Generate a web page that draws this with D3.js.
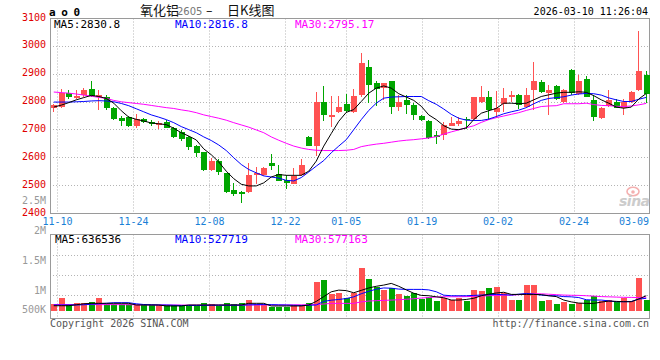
<!DOCTYPE html>
<html><head><meta charset="utf-8">
<script src="https://cdn.jsdelivr.net/npm/d3@7"></script>
<style>
body{margin:0;background:#fff}
svg{display:block}
text{font-family:"DejaVu Sans Mono",monospace}
</style>
</head><body>
<svg id="c" width="660" height="360"></svg>
<script>
// ---------- data ----------
const dates = ["11-07","11-10","11-11","11-12","11-13","11-14","11-17","11-18","11-19","11-20","11-21",
"11-24","11-25","11-26","11-27","11-28","12-01","12-02","12-03","12-04","12-05",
"12-08","12-09","12-10","12-11","12-12","12-15","12-16","12-17","12-18","12-19",
"12-22","12-23","12-24","12-25","12-26","12-29","12-30","12-31",
"01-05","01-06","01-07","01-08","01-09","01-12","01-13","01-14","01-15","01-16",
"01-19","01-20","01-21","01-22","01-23","01-26","01-27","01-28","01-29","01-30",
"02-02","02-03","02-04","02-05","02-06","02-09","02-10","02-11","02-12","02-13",
"02-24","02-25","02-26","02-27","03-02","03-03","03-04","03-05","03-06","03-09","03-10"];
const open  = [2778,2781,2832,2815,2824,2848,2820,2818,2779,2744,2745,2715,2740,2729,2719,2729,2707,2692,2675,2644,
2620,2556,2590,2544,2483,2477,2477,2537,2537,2580,2543,2519,2507,2537,2675,2642,2802,2745,2763,2794,
2763,2824,2927,2868,2852,2874,2781,2808,2790,2751,2733,2683,2683,2715,2723,2740,2739,2799,2820,2766,
2794,2818,2826,2782,2842,2871,2832,2856,2802,2916,2830,2883,2808,2743,2787,2802,2778,2799,2844,2898];
const high  = [2792,2848,2842,2844,2850,2874,2844,2826,2781,2751,2749,2758,2743,2734,2733,2737,2710,2698,2677,2646,
2622,2599,2595,2547,2511,2480,2582,2567,2567,2615,2573,2540,2564,2596,2680,2835,2856,2823,2823,2830,
2848,2977,2951,2874,2870,2876,2826,2826,2796,2755,2737,2695,2730,2746,2748,2748,2820,2856,2838,2841,
2850,2838,2830,2850,2943,2880,2862,2860,2847,2918,2898,2895,2826,2782,2844,2811,2811,2841,3054,2910];
const low   = [2766,2779,2811,2812,2820,2820,2773,2773,2737,2715,2712,2707,2725,2713,2704,2706,2670,2662,2627,2604,
2552,2554,2538,2475,2463,2437,2475,2505,2535,2556,2516,2487,2505,2535,2642,2606,2731,2711,2761,2761,
2761,2820,2796,2785,2808,2758,2767,2758,2734,2733,2668,2650,2665,2713,2715,2703,2737,2796,2737,2742,
2766,2802,2775,2778,2772,2832,2755,2808,2796,2826,2826,2818,2731,2740,2782,2778,2752,2796,2838,2796];
const close = [2790,2832,2818,2823,2844,2823,2824,2779,2739,2731,2713,2740,2729,2720,2725,2708,2675,2669,2638,2618,
2555,2588,2548,2477,2469,2470,2540,2546,2562,2570,2517,2511,2535,2573,2644,2799,2752,2755,2781,2769,
2823,2942,2862,2846,2868,2781,2802,2788,2752,2737,2671,2675,2717,2725,2733,2734,2817,2820,2770,2778,
2814,2826,2790,2826,2874,2835,2844,2811,2844,2832,2874,2820,2745,2778,2808,2780,2802,2835,2910,2828];
const volume = [290000,552000,290000,346000,346000,387000,552000,290000,290000,290000,
290000,249000,249000,249000,249000,249000,249000,207000,207000,207000,
346000,290000,207000,346000,290000,346000,442000,290000,290000,180000,
180000,180000,249000,249000,346000,1220000,1290000,705000,760000,526000,
760000,1800000,1330000,1010000,870000,940000,705000,636000,760000,498000,
595000,415000,526000,470000,526000,415000,870000,830000,968000,1010000,
733000,470000,470000,1080000,1080000,415000,470000,290000,360000,290000,
320000,470000,610000,415000,470000,360000,540000,415000,1380000,470000];
const ma5 = [2782,2789,2798,2808,2816,2824,2820,2813,2796,2769,2746,2738,2732,2725,2722,2719,2706,2690,2678,2664,
2632,2611,2585,2552,2525,2505,2499,2499,2510,2531,2540,2537,2537,2537,2552,2588,2642,2687,2731,2763,
2773,2802,2832,2850,2858,2850,2830,2818,2806,2785,2754,2737,2715,2703,2701,2707,2737,2760,2769,2777,
2796,2796,2794,2796,2808,2820,2826,2832,2835,2835,2837,2835,2823,2808,2796,2782,2778,2782,2811,2830.8];
const ma10 = [2800,2800,2800,2801,2802,2804,2805,2804,2801,2795,2787,2776,2765,2754,2746,2737,2726,2712,2701,2690,
2675,2662,2646,2626,2600,2576,2558,2546,2535,2531,2527,2519,2517,2529,2549,2570,2590,2618,2642,2665,
2701,2737,2770,2796,2814,2818,2819,2820,2820,2820,2805,2792,2775,2756,2742,2735,2734,2734,2739,2748,
2758,2765,2771,2780,2794,2806,2813,2816,2819,2825,2829,2831,2830,2825,2815,2808,2802,2802,2810,2816.8];
const ma30 = [2836,2834,2832,2829,2825,2821,2817,2813,2806,2801,2798,2795,2792,2788,2784,2780,2777,2772,2768,2762,
2754,2748,2742,2735,2726,2718,2710,2700,2690,2675,2663,2652,2642,2635,2630,2627,2626,2626,2626,2627,
2630,2640,2645,2649,2652,2656,2660,2663,2665,2668,2671,2676,2685,2693,2700,2708,2715,2727,2737,2744,
2750,2756,2762,2770,2777,2784,2786,2787,2794,2794,2794,2796,2791,2788,2787,2785,2784,2786,2790,2795.17];
const vma5 = [220000,220000,220000,260000,300000,320000,320000,320000,320000,320000,
320000,250000,250000,250000,250000,210000,210000,210000,250000,250000,
250000,250000,250000,250000,250000,250000,320000,320000,320000,210000,
210000,210000,210000,210000,250000,400000,600000,800000,870000,850000,
760000,860000,960000,1030000,1080000,1150000,1030000,880000,740000,650000,
636000,590000,553000,456000,456000,480000,530000,636000,700000,750000,
780000,692000,692000,692000,692000,680000,636000,600000,456000,380000,
330000,318000,318000,370000,415000,400000,387000,387000,500000,636536];
const vma10 = [250000,250000,250000,250000,260000,280000,300000,320000,346000,346000,
346000,300000,270000,260000,250000,250000,240000,230000,230000,230000,
235000,240000,240000,240000,240000,245000,255000,265000,270000,265000,
255000,250000,240000,230000,240000,250000,400000,450000,480000,520000,
590000,720000,820000,910000,960000,950000,913000,900000,900000,900000,
880000,802000,660000,636000,636000,636000,650000,664000,680000,692000,
680000,664000,700000,733000,700000,664000,636000,636000,600000,590000,
560000,470000,456000,456000,420000,387000,387000,395000,500000,527719];
const vma30 = [270000,270000,270000,270000,270000,268000,266000,265000,265000,265000,
262000,260000,258000,255000,252000,250000,250000,248000,246000,245000,
245000,245000,245000,245000,245000,248000,250000,252000,252000,252000,
252000,252000,255000,258000,262000,270000,290000,318000,318000,318000,
318000,380000,415000,430000,442000,455000,470000,490000,510000,540000,
560000,585000,595000,595000,595000,600000,610000,625000,636000,645000,
655000,664000,680000,700000,719000,715000,700000,680000,664000,655000,
650000,636000,620000,600000,590000,580000,570000,567000,560000,577163];
const priceTicks = [3100,3000,2900,2800,2700,2600,2500,2400];
const volTickValues = [2500000,2000000,1500000,1000000,500000];
const volTickLabels = ["2.5M","2M","1.5M","1M","500K"];
const xLabels = ["11-10","11-24","12-08","12-22","01-05","01-19","02-02","02-24","03-09"];

// ---------- setup ----------
const svg = d3.select("#c");
const RED = "#ff5252", GREEN = "#00a600", FRAME = "#9a9a9a", GRID = "#b4b4b4";
const L = 50, R = 650, T = 18.5, B = 213.5, VT = 234.5, VB = 318;

const xBand = d3.scaleBand().domain(dates).range([L, R]);
const xGrid = d3.scalePoint().domain(dates).range([L, R]);
const cx = d => xBand(d) + xBand.bandwidth() / 2;
const y = d3.scaleLinear().domain([2400, 3100]).range([B, T]);
const yv = d3.scaleLinear().domain([0, 1000000]).range([311, 287]);
const yvLab = d3.scaleLinear().domain([1000000, 2000000]).range([294, 234]);
const yvGrid = d3.scaleLinear().domain([0, 4]).range([235.7, 315.7]);
const px = v => Math.round(v - 0.5) + 0.5;

const defs = svg.append("defs");
defs.append("clipPath").attr("id", "cm").append("rect").attr("x", L).attr("y", T).attr("width", R - L).attr("height", B - T);
defs.append("clipPath").attr("id", "cv").append("rect").attr("x", L).attr("y", VT).attr("width", R - L).attr("height", VB - VT);

const gridLabels = xLabels.filter(d => xGrid(d) + 15 <= R);

// ---------- grids ----------
const g = svg.append("g").attr("stroke", GRID).attr("stroke-dasharray", "1,2").attr("fill", "none");
priceTicks.filter(v => v > 2400 && v < 3100).forEach(v => {
  g.append("line").attr("x1", L).attr("x2", R).attr("y1", px(y(v))).attr("y2", px(y(v)));
});
[1, 2, 3].forEach(k => {
  g.append("line").attr("x1", L).attr("x2", R).attr("y1", px(yvGrid(k))).attr("y2", px(yvGrid(k)));
});
gridLabels.forEach(d => {
  const x = px(xGrid(d));
  g.append("line").attr("x1", x).attr("x2", x).attr("y1", T).attr("y2", B);
  g.append("line").attr("x1", x).attr("x2", x).attr("y1", VT).attr("y2", VB);
});

// ---------- frames ----------
const f = svg.append("g").attr("stroke", FRAME).attr("fill", "none").attr("shape-rendering", "crispEdges");
f.append("rect").attr("x", L).attr("y", T).attr("width", R - L - 1).attr("height", B - T);
f.append("rect").attr("x", L).attr("y", VT).attr("width", R - L - 1).attr("height", VB - VT);

// ---------- candles ----------
const cg = svg.append("g").attr("clip-path", "url(#cm)").attr("shape-rendering", "crispEdges");
dates.forEach((d, i) => {
  const up = close[i] >= open[i];
  const col = up ? RED : GREEN;
  const c = Math.floor(cx(d));
  cg.append("line").attr("x1", c + 0.5).attr("x2", c + 0.5)
    .attr("y1", y(high[i])).attr("y2", y(low[i])).attr("stroke", col);
  const top = y(Math.max(open[i], close[i])), bot = y(Math.min(open[i], close[i]));
  cg.append("rect").attr("x", c - 2.5).attr("width", 6)
    .attr("y", top).attr("height", Math.max(1, bot - top)).attr("fill", col);
});

// ---------- MA lines ----------
const lineP = arr => d3.line().x((d, i) => cx(dates[i])).y(d => y(d))(arr);
const mg = svg.append("g").attr("clip-path", "url(#cm)").attr("fill", "none").attr("stroke-width", 1);
mg.append("path").attr("d", lineP(ma30)).attr("stroke", "#ff00ff");
mg.append("path").attr("d", lineP(ma10)).attr("stroke", "#0000ff");
mg.append("path").attr("d", lineP(ma5)).attr("stroke", "#000");

// ---------- volume ----------
const vg = svg.append("g").attr("clip-path", "url(#cv)").attr("shape-rendering", "crispEdges");
dates.forEach((d, i) => {
  const up = close[i] >= open[i];
  const c = Math.floor(cx(d));
  vg.append("rect").attr("x", c - 2.5).attr("width", 6)
    .attr("y", yv(volume[i])).attr("height", yv(0) - yv(volume[i]))
    .attr("fill", up ? RED : GREEN);
});
const lineV = arr => d3.line().x((d, i) => cx(dates[i])).y(d => yv(d))(arr);
const vm = svg.append("g").attr("clip-path", "url(#cv)").attr("fill", "none");
vm.append("path").attr("d", lineV(vma30)).attr("stroke", "#ff00ff");
vm.append("path").attr("d", lineV(vma10)).attr("stroke", "#0000ff");
vm.append("path").attr("d", lineV(vma5)).attr("stroke", "#000");

// ---------- axis labels ----------
svg.append("g").selectAll("text").data(priceTicks).join("text")
  .attr("x", 46).attr("y", v => y(v) + 2).attr("text-anchor", "end")
  .attr("font-size", 10).attr("fill", "#e00000").text(v => v);
svg.append("g").selectAll("text").data(volTickValues).join("text")
  .attr("x", 46).attr("y", v => Math.min(313, yvLab(v))).attr("text-anchor", "end")
  .attr("font-size", 10).attr("fill", "#999").text((v, i) => volTickLabels[i]);
svg.append("g").selectAll("text").data(xLabels).join("text")
  .attr("x", d => Math.min(xGrid(d), R - 16)).attr("y", 225).attr("text-anchor", "middle")
  .attr("font-size", 10).attr("fill", "#1a7fd6").text(d => d);

// ---------- header ----------
svg.append("text").attr("x", 49).attr("y", 15.5).attr("font-size", 11).attr("font-weight", "bold")
  .attr("letter-spacing", -0.5).attr("fill", "#000").text("a o 0");
const cjk = "'Noto Sans CJK SC', sans-serif";
svg.append("text").attr("x", 140).attr("y", 15).attr("font-size", 13).style("font-family", cjk).attr("fill", "#111").text("氧化铝");
svg.append("text").attr("x", 177).attr("y", 15).attr("font-size", 10).style("font-family", "'DejaVu Sans', sans-serif").attr("fill", "#777").text("2605");
svg.append("text").attr("x", 206).attr("y", 14.5).attr("font-size", 13).style("font-family", "'DejaVu Sans', sans-serif").attr("fill", "#111").text("–");
svg.append("text").attr("x", 227).attr("y", 15).attr("font-size", 13).style("font-family", cjk).attr("fill", "#111").text("日K线图");
svg.append("text").attr("x", 648).attr("y", 15).attr("text-anchor", "end").attr("font-size", 10).attr("fill", "#000")
  .text("2026-03-10 11:26:04");

// ---------- legends ----------
const legendMain = [["MA5:" + ma5[79], "#000", 54], ["MA10:" + ma10[79], "#0000ff", 175], ["MA30:" + ma30[79], "#ff00ff", 295]];
svg.append("g").selectAll("text").data(legendMain).join("text")
  .attr("x", d => d[2]).attr("y", 27.5).attr("font-size", 11).attr("fill", d => d[1]).text(d => d[0]);
const legendVol = [["MA5:" + vma5[79], "#000", 55], ["MA10:" + vma10[79], "#0000ff", 175], ["MA30:" + vma30[79], "#ff00ff", 295]];
svg.append("g").selectAll("text").data(legendVol).join("text")
  .attr("x", d => d[2]).attr("y", 242.5).attr("font-size", 11).attr("fill", d => d[1]).text(d => d[0]);

// ---------- footer ----------
svg.append("text").attr("x", 50).attr("y", 327).attr("font-size", 10).attr("fill", "#555").text("Copyright 2026 SINA.COM");
svg.append("text").attr("x", 649).attr("y", 327).attr("text-anchor", "end").attr("font-size", 10).attr("fill", "#555").text("http://finance.sina.com.cn");

// ---------- watermark ----------
const wm = svg.append("g").attr("opacity", 0.85);
wm.append("ellipse").attr("cx", 633).attr("cy", 191.5).attr("rx", 6).attr("ry", 4.2).attr("fill", "none").attr("stroke", "#f3a3a3").attr("stroke-width", 1.6);
wm.append("circle").attr("cx", 633).attr("cy", 192).attr("r", 1.8).attr("fill", "#f3a3a3");
wm.append("text").attr("x", 619).attr("y", 206).attr("font-size", 14).attr("font-style", "italic").attr("font-weight", "bold")
  .style("font-family", "'DejaVu Sans', sans-serif").attr("fill", "#c4c4c4").attr("letter-spacing", -0.5).text("sina");
</script>
</body></html>
